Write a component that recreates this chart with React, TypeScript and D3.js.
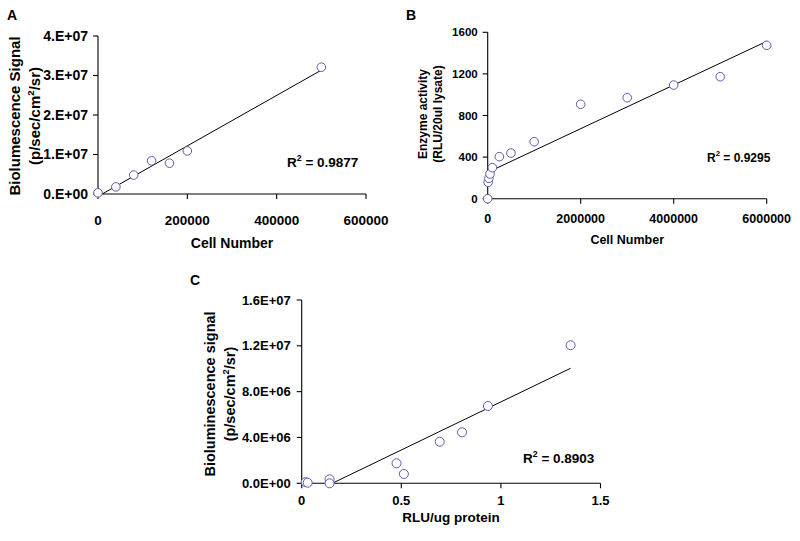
import React from "react";
import * as d3 from "d3";

// ---------- Data ----------
const aCells = [0, 40000, 80000, 120000, 160000, 200000, 500000];
const aSignal = [0.03e7, 0.18e7, 0.48e7, 0.84e7, 0.78e7, 1.09e7, 3.21e7];
const aXTicks = [0, 200000, 400000, 600000];
const aYTicks = [0, 1e7, 2e7, 3e7, 4e7];
const aYTickLabels = ["0.E+00", "1.E+07", "2.E+07", "3.E+07", "4.E+07"];
const aR2 = "0.9877";

const bCells = [0, 10000, 25000, 50000, 100000, 250000, 500000, 1000000, 2000000, 3000000, 4000000, 5000000, 6000000];
const bActivity = [0, 158, 196, 238, 298, 404, 439, 548, 908, 971, 1093, 1173, 1475];
const bXTicks = [0, 2000000, 4000000, 6000000];
const bYTicks = [0, 400, 800, 1200, 1600];
const bR2 = "0.9295";

const cRlu = [0.02, 0.03, 0.14, 0.14, 0.476, 0.513, 0.693, 0.805, 0.935, 1.35];
const cSignal = [0.1e6, 0.05e6, 0.35e6, 0, 1.75e6, 0.81e6, 3.63e6, 4.45e6, 6.75e6, 12.05e6];
const cXTicks = [0, 0.5, 1, 1.5];
const cXTickLabels = ["0", "0.5", "1", "1.5"];
const cYTicks = [0, 4e6, 8e6, 12e6, 16e6];
const cYTickLabels = ["0.0E+00", "4.0E+06", "8.0E+06", "1.2E+07", "1.6E+07"];
const cR2 = "0.8903";

const FONT = "'Liberation Sans', Arial, Helvetica, sans-serif";
const MARKER = "#5d5db3";

function linReg(xs: number[], ys: number[]) {
  const mx = d3.mean(xs)!;
  const my = d3.mean(ys)!;
  let sxy = 0, sxx = 0;
  xs.forEach((x, i) => {
    sxy += (x - mx) * (ys[i] - my);
    sxx += (x - mx) * (x - mx);
  });
  const slope = sxy / sxx;
  return { slope, intercept: my - slope * mx };
}

type PanelProps = {
  id: string;
  letter: string;
  letterX: number;
  letterY: number;
  left: number; right: number; top: number; bottom: number;
  xDomain: [number, number];
  yDomain: [number, number];
  xs: number[]; ys: number[];
  xTicks: number[]; xTickLabels: string[];
  yTicks: number[]; yTickLabels: string[];
  tickFont: number; xTickFont: number;
  yLabelGap: number;
  xTickBaseline: number;
  xTitle: string; xTitleFont: number; xTitleBaseline: number;
  yTitle1: string; yTitle2a: string; yTitle2sup: string | null; yTitle2b: string;
  yTitleFont: number; yTitleX1: number; yTitleX2: number; yTitleCY: number;
  r2: string; r2X: number; r2Y: number; r2Font: number;
  radius: number;
};

function Panel(p: PanelProps) {
  const x = d3.scaleLinear().domain(p.xDomain).range([p.left, p.right]);
  const y = d3.scaleLinear().domain(p.yDomain).range([p.bottom, p.top]);
  const reg = linReg(p.xs, p.ys);
  const x0 = d3.min(p.xs)!;
  const x1 = d3.max(p.xs)!;
  const linePath = d3.line<number>()
    .x((v) => x(v))
    .y((v) => y(reg.slope * v + reg.intercept))([x0, x1]);
  const tick = 5;
  return (
    <g fontFamily={FONT} fill="#000">
      <defs>
        <clipPath id={`clip-${p.id}`}>
          <rect x={p.left} y={p.top} width={p.right - p.left + 2} height={p.bottom - p.top} />
        </clipPath>
      </defs>
      <text x={p.letterX} y={p.letterY} fontSize={14} fontWeight="bold">{p.letter}</text>

      {/* axes */}
      <line x1={p.left} x2={p.left} y1={p.top} y2={p.bottom} stroke="#000" strokeWidth={1.1} />
      <line x1={p.left} x2={p.right} y1={p.bottom} y2={p.bottom} stroke="#000" strokeWidth={1.1} />
      {p.yTicks.map((t, i) => (
        <g key={`yt${i}`}>
          <line x1={p.left - tick} x2={p.left} y1={y(t)} y2={y(t)} stroke="#000" strokeWidth={1.1} />
          <text x={p.left - tick - p.yLabelGap} y={y(t)} dy="0.35em" textAnchor="end"
            fontSize={p.tickFont} fontWeight="bold">{p.yTickLabels[i]}</text>
        </g>
      ))}
      {p.xTicks.map((t, i) => (
        <g key={`xt${i}`}>
          <line x1={x(t)} x2={x(t)} y1={p.bottom} y2={p.bottom + tick} stroke="#000" strokeWidth={1.1} />
          <text x={x(t)} y={p.xTickBaseline} textAnchor="middle"
            fontSize={p.xTickFont} fontWeight="bold">{p.xTickLabels[i]}</text>
        </g>
      ))}

      {/* titles */}
      <text x={(p.left + p.right) / 2} y={p.xTitleBaseline} textAnchor="middle"
        fontSize={p.xTitleFont} fontWeight="bold">{p.xTitle}</text>
      <text transform={`translate(${p.yTitleX1},${p.yTitleCY}) rotate(-90)`} textAnchor="middle"
        dy="0.35em" fontSize={p.yTitleFont} fontWeight="bold">{p.yTitle1}</text>
      <text transform={`translate(${p.yTitleX2},${p.yTitleCY}) rotate(-90)`} textAnchor="middle"
        dy="0.35em" fontSize={p.yTitleFont} fontWeight="bold">
        {p.yTitle2a}
        {p.yTitle2sup !== null && (
          <tspan fontSize={p.yTitleFont * 0.65} dy={-p.yTitleFont * 0.4}>{p.yTitle2sup}</tspan>
        )}
        {p.yTitle2sup !== null ? (
          <tspan dy={p.yTitleFont * 0.4}>{p.yTitle2b}</tspan>
        ) : null}
      </text>

      {/* trendline */}
      <path d={linePath || ""} fill="none" stroke="#000" strokeWidth={1} clipPath={`url(#clip-${p.id})`} />

      {/* markers */}
      {p.xs.map((v, i) => (
        <circle key={`pt${i}`} cx={x(v)} cy={y(p.ys[i])} r={p.radius}
          fill="#fff" stroke={MARKER} strokeWidth={1} />
      ))}

      {/* R squared */}
      <text x={p.r2X} y={p.r2Y} fontSize={p.r2Font} fontWeight="bold">
        R<tspan fontSize={p.r2Font * 0.65} dy={-p.r2Font * 0.42}>2</tspan>
        <tspan dy={p.r2Font * 0.42}>{` = ${p.r2}`}</tspan>
      </text>
    </g>
  );
}

export default function App() {
  return (
    <svg width={800} height={541} viewBox="0 0 800 541"
      style={{ position: "absolute", left: 0, top: 0, background: "#fff" }}>
      <rect x={0} y={0} width={800} height={541} fill="#fff" />
      <Panel
        id="a" letter="A" letterX={7} letterY={20}
        left={98} right={366} top={36} bottom={194}
        xDomain={[0, 600000]} yDomain={[0, 4e7]}
        xs={aCells} ys={aSignal}
        xTicks={aXTicks} xTickLabels={aXTicks.map((t) => String(t))}
        yTicks={aYTicks} yTickLabels={aYTickLabels}
        tickFont={14} xTickFont={13.5} yLabelGap={5}
        xTickBaseline={224.5}
        xTitle="Cell Number" xTitleFont={14} xTitleBaseline={248}
        yTitle1="Biolumescence Signal" yTitle2a="(p/sec/cm" yTitle2sup="2" yTitle2b="/sr)"
        yTitleFont={15} yTitleX1={15} yTitleX2={35} yTitleCY={116}
        r2={aR2} r2X={287} r2Y={166.5} r2Font={13.5}
        radius={4.3}
      />
      <Panel
        id="b" letter="B" letterX={406} letterY={20}
        left={487.7} right={766.7} top={32.3} bottom={198.7}
        xDomain={[0, 6000000]} yDomain={[0, 1600]}
        xs={bCells} ys={bActivity}
        xTicks={bXTicks} xTickLabels={bXTicks.map((t) => String(t))}
        yTicks={bYTicks} yTickLabels={bYTicks.map((t) => String(t))}
        tickFont={11.5} xTickFont={12.5} yLabelGap={5}
        xTickBaseline={222.5}
        xTitle="Cell Number" xTitleFont={12.5} xTitleBaseline={243.5}
        yTitle1="Enzyme activity" yTitle2a="(RLU/20ul lysate)" yTitle2sup={null} yTitle2b=""
        yTitleFont={12} yTitleX1={423} yTitleX2={437.5} yTitleCY={114}
        r2={bR2} r2X={707} r2Y={161.5} r2Font={12}
        radius={4.3}
      />
      <Panel
        id="c" letter="C" letterX={190} letterY={284.5}
        left={301.7} right={600.5} top={300} bottom={483.3}
        xDomain={[0, 1.5]} yDomain={[0, 1.6e7]}
        xs={cRlu} ys={cSignal}
        xTicks={cXTicks} xTickLabels={cXTickLabels}
        yTicks={cYTicks} yTickLabels={cYTickLabels}
        tickFont={13} xTickFont={13} yLabelGap={6}
        xTickBaseline={504.5}
        xTitle="RLU/ug protein" xTitleFont={13.5} xTitleBaseline={521.5}
        yTitle1="Bioluminescence signal" yTitle2a="(p/sec/cm" yTitle2sup="2" yTitle2b="/sr)"
        yTitleFont={14.5} yTitleX1={209.5} yTitleX2={230} yTitleCY={394}
        r2={cR2} r2X={523} r2Y={462.5} r2Font={13.5}
        radius={4.5}
      />
    </svg>
  );
}
